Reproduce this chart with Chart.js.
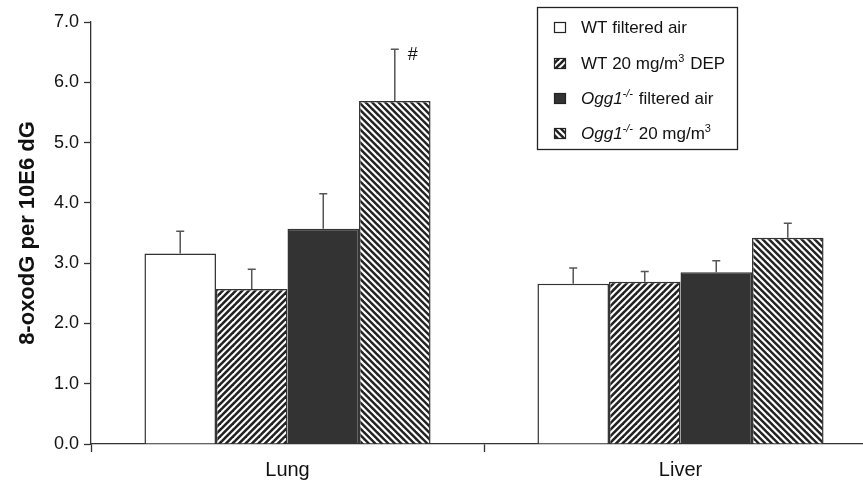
<!DOCTYPE html>
<html>
<head>
<meta charset="utf-8">
<script src="https://cdn.jsdelivr.net/npm/chart.js@4.4.1/dist/chart.umd.min.js"></script>
<style>
  html, body { margin: 0; padding: 0; background: #fff; overflow: hidden; width: 863px; height: 487px; }
  #c { display: block; }
</style>
</head>
<body>
<canvas id="c" width="877" height="487"></canvas>
<script>
// values
const categories = ["Lung", "Liver"];
const wtAir = [3.16, 2.66];
const wtAirErr = [0.37, 0.26];
const wtDep = [2.57, 2.69];
const wtDepErr = [0.33, 0.17];
const oggAir = [3.57, 2.85];
const oggAirErr = [0.58, 0.19];
const oggDep = [5.69, 3.42];
const oggDepErr = [0.86, 0.24];
const yTicks = [0, 1, 2, 3, 4, 5, 6, 7];

const FONT = '"Liberation Sans", Arial, Helvetica, sans-serif';
Chart.defaults.font.family = FONT;
Chart.defaults.color = "#111";

// diagonal stripes, dir "/" or "\"
function stripes(dir, bg, fg, lw) {
  const p = 13;
  const c = document.createElement("canvas");
  c.width = p; c.height = p;
  const g = c.getContext("2d");
  g.fillStyle = bg;
  g.fillRect(0, 0, p, p);
  g.strokeStyle = fg;
  g.lineWidth = lw;
  for (let k = -4; k <= 6; k++) {
    const o = k * p / 2;
    g.beginPath();
    if (dir === "/") { g.moveTo(o + p, -p); g.lineTo(o - 2 * p, 2 * p); }
    else { g.moveTo(o - p, -p); g.lineTo(o + 2 * p, 2 * p); }
    g.stroke();
  }
  return g.createPattern(c, "repeat");
}

const fills = ["#ffffff", stripes("/", "#ffffff", "#222222", 2.6), "#333333", stripes("\\", "#222222", "#ffffff", 2.2)];
const errs = [wtAirErr, wtDepErr, oggAirErr, oggDepErr];

// legend entries: parts with italic / superscript flags
const legendItems = [
  [{ t: "WT filtered air" }],
  [{ t: "WT 20 mg/m" }, { t: "3", sup: true }, { t: " DEP" }],
  [{ t: "Ogg1", it: true }, { t: "-/-", sup: true, it: true }, { t: " filtered air" }],
  [{ t: "Ogg1", it: true }, { t: "-/-", sup: true, it: true }, { t: " 20 mg/m" }, { t: "3", sup: true }]
];

const errorBars = {
  id: "errorBars",
  afterDatasetsDraw(chart) {
    const ctx = chart.ctx;
    const y = chart.scales.y;
    ctx.save();
    ctx.strokeStyle = "#555";
    ctx.lineWidth = 1.5;
    chart.data.datasets.forEach((ds, i) => {
      chart.getDatasetMeta(i).data.forEach((bar, j) => {
        const top = y.getPixelForValue(ds.data[j] + errs[i][j]);
        ctx.beginPath();
        ctx.moveTo(bar.x, bar.y);
        ctx.lineTo(bar.x, top);
        ctx.moveTo(bar.x - 4, top);
        ctx.lineTo(bar.x + 4, top);
        ctx.stroke();
        if (i === 3 && j === 0) {
          ctx.fillStyle = "#111";
          ctx.font = "18px " + FONT;
          ctx.textAlign = "center";
          ctx.textBaseline = "middle";
          ctx.fillText("#", bar.x + 18, top + 6);
        }
      });
    });
    ctx.restore();
  }
};

const boxLegend = {
  id: "boxLegend",
  afterDraw(chart) {
    const ctx = chart.ctx;
    ctx.save();
    ctx.fillStyle = "#fff";
    ctx.fillRect(537, 7, 200, 142);
    ctx.strokeStyle = "#222";
    ctx.lineWidth = 1.3;
    ctx.strokeRect(537.5, 7.5, 200, 142);
    const rows = [33, 69, 104, 139];
    legendItems.forEach((parts, i) => {
      const base = rows[i];
      ctx.fillStyle = fills[i];
      ctx.fillRect(554, base - 11, 12, 11);
      ctx.strokeStyle = "#222";
      ctx.lineWidth = 1.2;
      ctx.strokeRect(554.5, base - 10.5, 11, 10);
      let x = 581;
      ctx.fillStyle = "#111";
      ctx.textBaseline = "alphabetic";
      ctx.textAlign = "left";
      parts.forEach(p => {
        ctx.font = (p.it ? "italic " : "") + (p.sup ? "11px " : "17px ") + FONT;
        ctx.fillText(p.t, x, p.sup ? base - 7 : base);
        x += ctx.measureText(p.t).width + (p.sup ? 1 : 0);
      });
    });
    ctx.restore();
  }
};

const labels = ["WT filtered air", "WT 20 mg/m3 DEP", "Ogg1-/- filtered air", "Ogg1-/- 20 mg/m3"];
const series = [wtAir, wtDep, oggAir, oggDep];

new Chart(document.getElementById("c"), {
  type: "bar",
  data: {
    labels: categories,
    datasets: series.map((d, i) => ({
      label: labels[i],
      data: d,
      backgroundColor: fills[i],
      borderColor: "#333",
      borderWidth: 1.5,
      categoryPercentage: 0.728,
      barPercentage: 1
    }))
  },
  options: {
    responsive: false,
    animation: false,
    layout: { padding: { top: 22, left: 0, right: 0, bottom: 0 } },
    plugins: { legend: { display: false }, tooltip: { enabled: false } },
    scales: {
      x: {
        afterFit: s => { s.height = 43; },
        grid: { drawOnChartArea: false, tickLength: 8, tickColor: "#333", tickWidth: 1.3 },
        border: { color: "#333", width: 1.3 },
        ticks: { font: { size: 20 }, padding: 6, color: "#111" }
      },
      y: {
        min: 0,
        max: 7,
        afterFit: s => { s.width = 91; },
        afterBuildTicks: s => { s.ticks = yTicks.map(v => ({ value: v })); },
        grid: { drawOnChartArea: false, tickLength: 7, tickColor: "#333", tickWidth: 1.3 },
        border: { color: "#333", width: 1.3 },
        ticks: { font: { size: 18 }, padding: 5, color: "#111", callback: v => v.toFixed(1) },
        title: {
          display: true,
          text: "8-oxodG per 10E6 dG",
          font: { size: 22, weight: "bold" },
          color: "#111",
          padding: { top: 15, bottom: 0 }
        }
      }
    }
  },
  plugins: [errorBars, boxLegend]
});
</script>
</body>
</html>
